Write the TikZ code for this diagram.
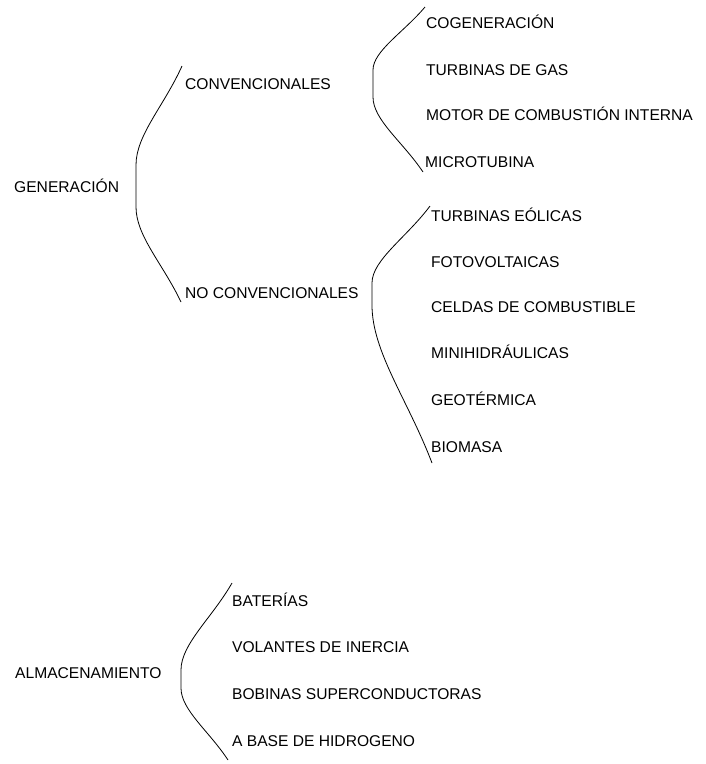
\documentclass[tikz,border=0pt]{standalone}
\usepackage{fontspec}
\setmainfont{Liberation Sans}
\begin{document}
\begin{tikzpicture}[x=1pt,y=-1pt,
  lbl/.style={anchor=west,inner sep=0pt,text height=11.2pt,text depth=0pt,font=\fontsize{15.6}{18}\selectfont},
  bracket/.style={draw=black,line width=0.8pt}]
\useasboundingbox (0,0) rectangle (706,764);
% labels
\node[lbl] (gen) at (14,187) {GENERACIÓN};
\node[lbl] (conv) at (185,84) {CONVENCIONALES};
\node[lbl] (noconv) at (185,293) {NO CONVENCIONALES};
\node[lbl] (c1) at (426,23) {COGENERACIÓN};
\node[lbl] (c2) at (426,70) {TURBINAS DE GAS};
\node[lbl] (c3) at (426,115) {MOTOR DE COMBUSTIÓN INTERNA};
\node[lbl] (c4) at (425,162) {MICROTUBINA};
\node[lbl] (n1) at (431,216) {TURBINAS EÓLICAS};
\node[lbl] (n2) at (431,262) {FOTOVOLTAICAS};
\node[lbl] (n3) at (431,307) {CELDAS DE COMBUSTIBLE};
\node[lbl] (n4) at (431,353) {MINIHIDRÁULICAS};
\node[lbl] (n5) at (431,400) {GEOTÉRMICA};
\node[lbl] (n6) at (431,447) {BIOMASA};
\node[lbl] (alm) at (15,673) {ALMACENAMIENTO};
\node[lbl] (a1) at (232,601) {BATERÍAS};
\node[lbl] (a2) at (232,647) {VOLANTES DE INERCIA};
\node[lbl] (a3) at (232,694) {BOBINAS SUPERCONDUCTORAS};
\node[lbl] (a4) at (232,741) {A BASE DE HIDROGENO};
% brackets
\draw[bracket] (182,66) .. controls (164,106) and (136,135) .. (136,165) -- (136,207)
  .. controls (136,236) and (163,264) .. (181,302);
\draw[bracket] (425,7) .. controls (404,32) and (373,51) .. (373,70) -- (373,97)
  .. controls (373,120) and (403,142) .. (423,172);
\draw[bracket] (430,206) .. controls (407,237) and (372,260) .. (372,283) -- (372,305)
  .. controls (372,352) and (408,400) .. (432,463);
\draw[bracket] (232,583) .. controls (212,618) and (181,644) .. (181,670) -- (181,688)
  .. controls (181,710) and (209,731) .. (228,760);
\end{tikzpicture}
\end{document}
